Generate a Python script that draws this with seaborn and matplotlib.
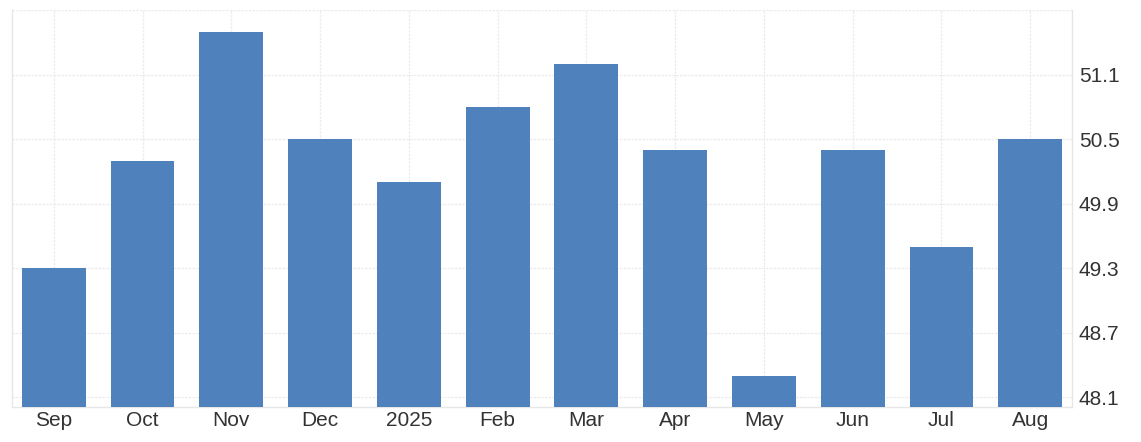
import numpy as np
import pandas as pd
import seaborn as sns
import matplotlib.pyplot as plt

# Monthly values
months = ['Sep', 'Oct', 'Nov', 'Dec', '2025', 'Feb', 'Mar', 'Apr', 'May', 'Jun', 'Jul', 'Aug']
values = [49.3, 50.3, 51.5, 50.5, 50.1, 50.8, 51.2, 50.4, 48.3, 50.4, 49.5, 50.5]
yticks = [48.1, 48.7, 49.3, 49.9, 50.5, 51.1]

df = pd.DataFrame({'month': months, 'value': values})

sns.set_theme(style='white')
plt.rcParams['font.family'] = ['Liberation Sans', 'DejaVu Sans']

fig = plt.figure(figsize=(11.41, 4.42), dpi=100)
ax = fig.add_axes([12 / 1141, 1 - 407 / 442, (1072 - 12) / 1141, (407 - 10) / 442])

sns.barplot(data=df, x='month', y='value', color='#4f81bd', saturation=1,
            width=0.72, linewidth=0, ax=ax, zorder=3)
ax.set_ylim(48.007, 51.7)
ax.set_xlim(-0.47, 11.47)

# value axis on the right, top gridline unlabeled
ax.yaxis.tick_right()
ax.set_yticks(yticks + [51.7])
ax.set_yticklabels([f'{t:.1f}' for t in yticks] + [''])
ax.tick_params(axis='y', length=0, pad=5, labelsize=15, labelcolor='#333333')
ax.tick_params(axis='x', length=0, pad=3, labelsize=15, labelcolor='#333333')
ax.set_xlabel('')
ax.set_ylabel('')

ax.grid(True, color='#ebebeb', linewidth=0.9, linestyle=(0, (2, 1)), zorder=0)
ax.set_axisbelow(True)

ax.spines['top'].set_visible(False)
for s in ['left', 'right', 'bottom']:
    ax.spines[s].set_color('#e6e6e6')
    ax.spines[s].set_linewidth(1)

fig.savefig('out.png', dpi=100)
